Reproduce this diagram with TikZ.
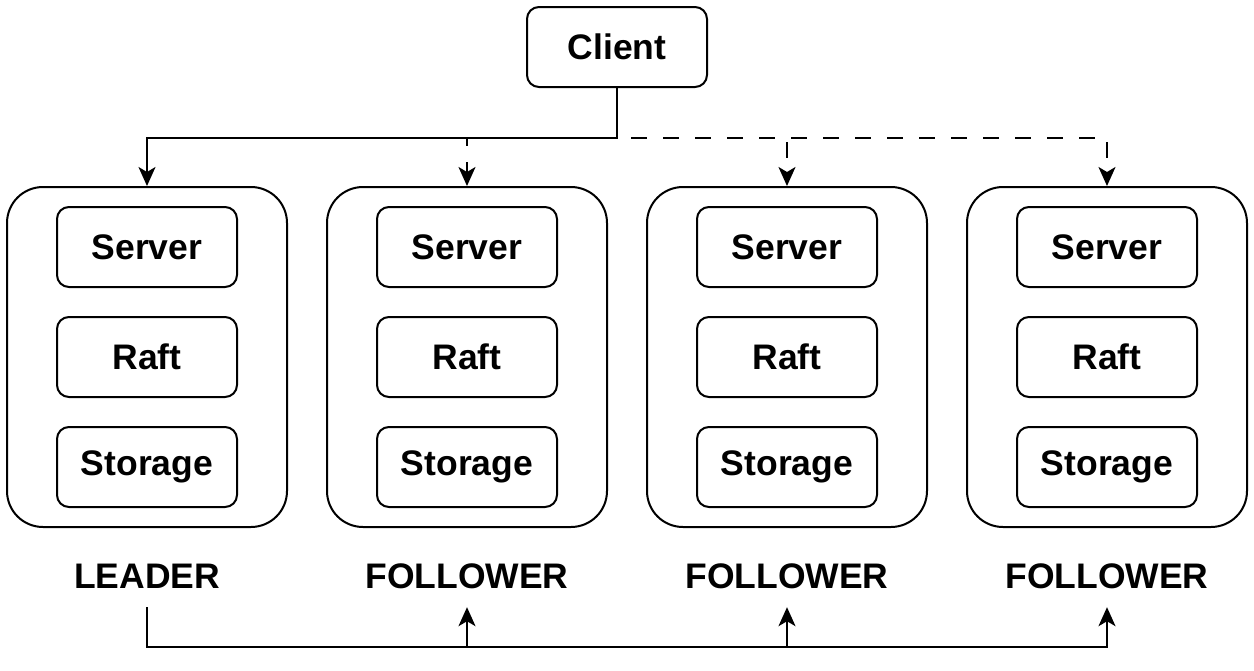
\documentclass[tikz,border=0pt]{standalone}
\usepackage{fontspec}
\setmainfont{Liberation Sans}
\usetikzlibrary{arrows.meta}
\begin{document}
\begin{tikzpicture}[x=1pt,y=-1pt,
  every node/.style={font=\fontsize{35.5}{42}\selectfont\bfseries},
  box/.style={draw=black,line width=2pt,rounded corners=12pt,minimum width=180pt,minimum height=80pt,inner sep=0pt},
  outer/.style={draw=black,line width=2pt,rounded corners=36pt,minimum width=280pt,minimum height=340pt,inner sep=0pt},
  lab/.style={minimum height=62pt,inner sep=0pt},
  conn/.style={line width=2pt,-{Stealth[length=19pt,width=17pt,inset=5pt]}},
  dconn/.style={conn,dash pattern=on 16pt off 16pt}]
\useasboundingbox (0,0) rectangle (1254,670);
\node[box] (client) at (617,47) {Client};
\foreach \i/\x/\t in {1/147/LEADER,2/467/FOLLOWER,3/787/FOLLOWER,4/1107/FOLLOWER}{
  \node[outer] (n\i) at (\x,357) {};
  \node[box] (s\i) at (\x,247) {Server};
  \node[box] (r\i) at (\x,357) {Raft};
  \node[box] (st\i) at (\x,467) {Storage};
  \node[lab] (l\i) at (\x,576) {\t};
}
% dashed client edges
\foreach \i in {2,3,4}{
  \draw[dconn] (client.south) |- ([yshift=-50pt]client.south) -| (n\i.north);
}
% solid client edge to leader
\draw[conn] (client.south) -- ++(0,50) -| (n1.north);
% bottom leader edges
\foreach \i in {2,3,4}{
  \draw[conn] (l1.south) -- ++(0,40) -| (l\i.south);
}
\end{tikzpicture}
\end{document}
